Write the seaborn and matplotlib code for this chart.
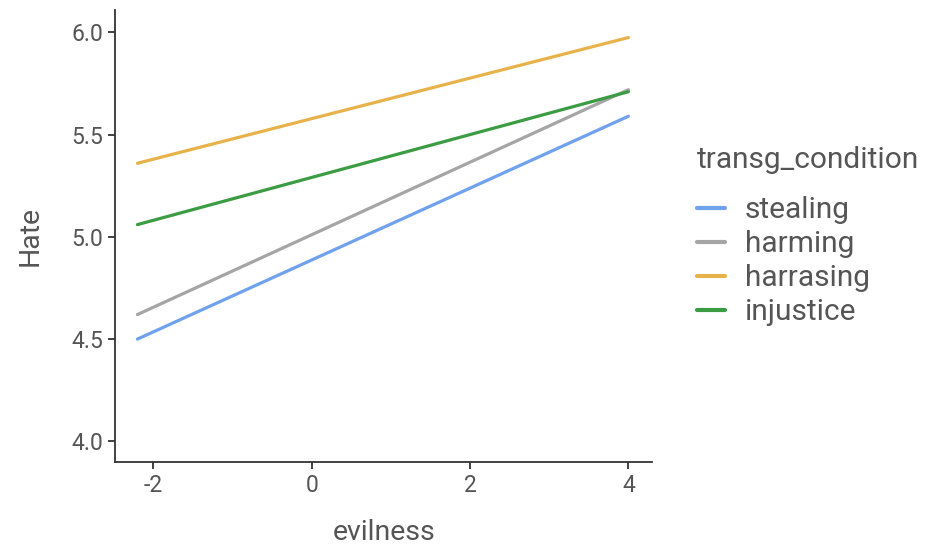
import pandas as pd
import seaborn as sns
import matplotlib.pyplot as plt

sns.set_theme(style="ticks")
plt.rcParams['font.family'] = ['Roboto', 'DejaVu Sans']
plt.rcParams['axes.unicode_minus'] = False

# fitted line endpoints
conditions = ["stealing", "harming", "harrasing", "injustice"]
evil_ends = [-2.2, 4.0]
hate_start = [4.50, 4.62, 5.36, 5.06]
hate_end = [5.59, 5.72, 5.975, 5.71]
colors = ["#6fa1ec", "#a5a5a5", "#e8b24a", "#3b9c43"]

rows = []
for c, a, b in zip(conditions, hate_start, hate_end):
    rows.append({"transg_condition": c, "evilness": evil_ends[0], "Hate": a})
    rows.append({"transg_condition": c, "evilness": evil_ends[1], "Hate": b})
df = pd.DataFrame(rows)

fig = plt.figure(figsize=(9.37, 5.53), dpi=100)
ax = fig.add_axes([0.123, 0.165, 0.573, 0.817])
sns.lineplot(data=df, x="evilness", y="Hate", hue="transg_condition",
             hue_order=conditions, palette=colors, linewidth=2.3, ax=ax)

ax.set_xlim(-2.48, 4.3)
ax.set_ylim(3.9, 6.11)
ax.set_xticks([-2, 0, 2, 4])
ax.set_yticks([4.0, 4.5, 5.0, 5.5, 6.0])
ax.set_yticklabels(["4.0", "4.5", "5.0", "5.5", "6.0"])
ax.tick_params(labelsize=16.5, colors="#333333", labelcolor="#555555", length=5, width=1.3)
for s in ["left", "bottom"]:
    ax.spines[s].set_color("#333333")
    ax.spines[s].set_linewidth(1.3)
sns.despine(ax=ax)
ax.set_xlabel("evilness", fontsize=20.5, color="#555555", labelpad=16)
ax.set_ylabel("Hate", fontsize=20.5, color="#555555", labelpad=20)

leg = ax.legend(title="transg_condition", loc="center left",
                bbox_to_anchor=(0.744, 0.573), bbox_transform=fig.transFigure,
                frameon=False, fontsize=21.5, title_fontsize=21.5, handlelength=0.95,
                handletextpad=0.65, labelspacing=0.2, borderaxespad=0, borderpad=0)
leg._legend_box.align = "left"
leg._legend_box.sep = 16
for line in leg.get_lines():
    line.set_linewidth(3)
for t in leg.get_texts():
    t.set_color("#555555")
leg.get_title().set_color("#555555")

fig.savefig("out.png", dpi=100)
